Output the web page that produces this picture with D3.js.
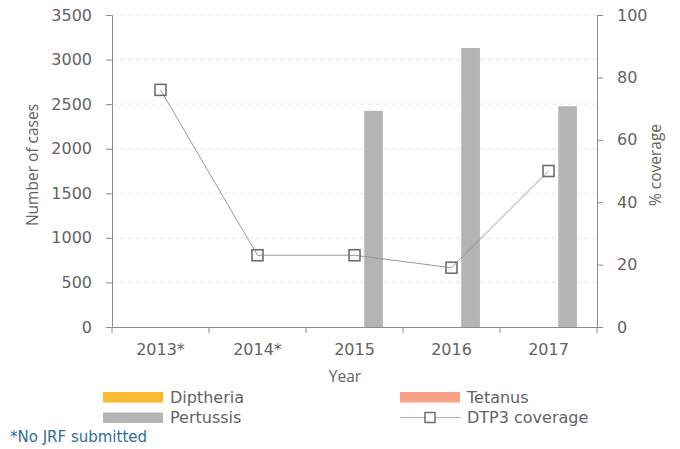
<!DOCTYPE html>
<html>
<head>
<meta charset="utf-8">
<script src="https://cdn.jsdelivr.net/npm/d3@7"></script>
<style>
  body { margin: 0; background: #fff; }
  svg text { font-family: "DejaVu Sans", "Open Sans", sans-serif; fill: #636363; }
  svg text.title { font-family: "Open Sans", "DejaVu Sans", sans-serif; }
</style>
</head>
<body>
<div id="chart"></div>
<script>
// data
var years = ["2013*", "2014*", "2015", "2016", "2017"];
var diptheria = [0, 0, 0, 0, 0];
var tetanus = [0, 0, 0, 0, 0];
var pertussis = [0, 0, 2425, 3130, 2476];
var coverage = [76, 23, 23, 19, 50];
var casesTicks = [0, 500, 1000, 1500, 2000, 2500, 3000, 3500];
var coverageTicks = [0, 20, 40, 60, 80, 100];

var width = 680, height = 449;
var margin = { top: 15, right: 83, bottom: 122, left: 112 };
var fs = 16;

var svg = d3.select("#chart").append("svg")
  .attr("width", width)
  .attr("height", height);

var x = d3.scaleBand().domain(years)
  .range([margin.left, width - margin.right]);
var series = ["Diptheria", "Tetanus", "Pertussis"];
var colors = { Diptheria: "#fbb831", Tetanus: "#f8a187", Pertussis: "#b3b5b5" };
var xSub = d3.scaleBand().domain(series)
  .range([0, x.bandwidth()]).paddingInner(0.02).paddingOuter(1.05);

var y = d3.scaleLinear().domain([0, 3500])
  .range([height - margin.bottom, margin.top]);
var y2 = d3.scaleLinear().domain([0, 100])
  .range([height - margin.bottom, margin.top]);

// gridlines
svg.append("g").selectAll("line")
  .data(casesTicks.slice(1))
  .enter().append("line")
  .attr("x1", margin.left).attr("x2", width - margin.right)
  .attr("y1", function (d) { return y(d); })
  .attr("y2", function (d) { return y(d); })
  .attr("stroke", "#e8e8e8")
  .attr("stroke-dasharray", "5,3");

// bars
var rows = years.map(function (yr, i) {
  return { year: yr, Diptheria: diptheria[i], Tetanus: tetanus[i], Pertussis: pertussis[i] };
});
svg.append("g").selectAll("g")
  .data(rows)
  .enter().append("g")
  .attr("transform", function (d) { return "translate(" + x(d.year) + ",0)"; })
  .selectAll("rect")
  .data(function (d) { return series.map(function (s) { return { key: s, value: d[s] }; }); })
  .enter().append("rect")
  .attr("x", function (d) { return xSub(d.key); })
  .attr("width", xSub.bandwidth())
  .attr("y", function (d) { return y(d.value); })
  .attr("height", function (d) { return y(0) - y(d.value); })
  .attr("fill", function (d) { return colors[d.key]; });

// axes
var axisColor = "#8c8c8c";
var gx = svg.append("g")
  .attr("transform", "translate(0," + y(0) + ")")
  .call(d3.axisBottom(x).tickSize(0).tickPadding(17));
gx.select(".domain").attr("stroke", axisColor);
gx.selectAll("text").attr("font-size", fs);
// category separator ticks
svg.append("g").selectAll("line")
  .data(years.concat(["end"]))
  .enter().append("line")
  .attr("x1", function (d, i) { return margin.left + i * x.step(); })
  .attr("x2", function (d, i) { return margin.left + i * x.step(); })
  .attr("y1", y(0)).attr("y2", y(0) + 6)
  .attr("stroke", axisColor);

var gy = svg.append("g")
  .attr("transform", "translate(" + margin.left + ",0)")
  .call(d3.axisLeft(y).tickValues(casesTicks).tickFormat(d3.format("d"))
    .tickSize(6).tickPadding(14).tickSizeOuter(0));
gy.select(".domain").attr("stroke", axisColor);
gy.selectAll(".tick line").attr("stroke", axisColor);
gy.selectAll("text").attr("font-size", fs);

var gy2 = svg.append("g")
  .attr("transform", "translate(" + (width - margin.right) + ",0)")
  .call(d3.axisRight(y2).tickValues(coverageTicks).tickSize(6).tickPadding(14).tickSizeOuter(0));
gy2.select(".domain").attr("stroke", axisColor);
gy2.selectAll(".tick line").attr("stroke", axisColor);
gy2.selectAll("text").attr("font-size", fs);

// axis titles
svg.append("text").attr("class", "title")
  .attr("transform", "translate(38,165) rotate(-90)")
  .attr("text-anchor", "middle").attr("font-size", 15.5)
  .text("Number of cases");
svg.append("text").attr("class", "title")
  .attr("transform", "translate(661,165) rotate(-90)")
  .attr("text-anchor", "middle").attr("font-size", 15.5)
  .text("% coverage");
svg.append("text").attr("class", "title")
  .attr("x", 345).attr("y", 382)
  .attr("text-anchor", "middle").attr("font-size", 15.5)
  .text("Year");

// coverage line
var line = d3.line()
  .x(function (d, i) { return x(years[i]) + x.bandwidth() / 2; })
  .y(function (d) { return y2(d); });
svg.append("path")
  .datum(coverage)
  .attr("d", line)
  .attr("fill", "none")
  .attr("stroke", "#8f8f8f")
  .attr("stroke-width", 0.9);
svg.append("g").selectAll("rect")
  .data(coverage)
  .enter().append("rect")
  .attr("x", function (d, i) { return x(years[i]) + x.bandwidth() / 2 - 5.5; })
  .attr("y", function (d) { return y2(d) - 5.5; })
  .attr("width", 11).attr("height", 11)
  .attr("fill", "none")
  .attr("stroke", "#6e6e6e")
  .attr("stroke-width", 1.6);

// legend
var legend = [
  { name: "Diptheria", type: "bar", color: colors.Diptheria, x: 103, y: 397 },
  { name: "Tetanus", type: "bar", color: colors.Tetanus, x: 400, y: 397 },
  { name: "Pertussis", type: "bar", color: colors.Pertussis, x: 103, y: 417.5 },
  { name: "DTP3 coverage", type: "line", x: 400, y: 417.5 }
];
var lg = svg.append("g").selectAll("g")
  .data(legend)
  .enter().append("g")
  .attr("transform", function (d) { return "translate(" + d.x + "," + d.y + ")"; });
lg.filter(function (d) { return d.type === "bar"; })
  .append("rect")
  .attr("x", 0).attr("y", -5).attr("width", 60).attr("height", 10.5)
  .attr("fill", function (d) { return d.color; });
var ll = lg.filter(function (d) { return d.type === "line"; });
ll.append("line")
  .attr("x1", 0).attr("x2", 60).attr("y1", 0).attr("y2", 0)
  .attr("stroke", "#8a8a8a").attr("stroke-dasharray", "1,0.6");
ll.append("rect")
  .attr("x", 25).attr("y", -5).attr("width", 10).attr("height", 10)
  .attr("fill", "#fff").attr("stroke", "#6e6e6e").attr("stroke-width", 1.5);
lg.append("text")
  .attr("x", 67).attr("y", 5.5).attr("font-size", fs)
  .text(function (d) { return d.name; });

svg.append("text")
  .attr("x", 10).attr("y", 442)
  .attr("font-size", 15)
  .style("fill", "#2f6f9f")
  .text("*No JRF submitted");
</script>
</body>
</html>
